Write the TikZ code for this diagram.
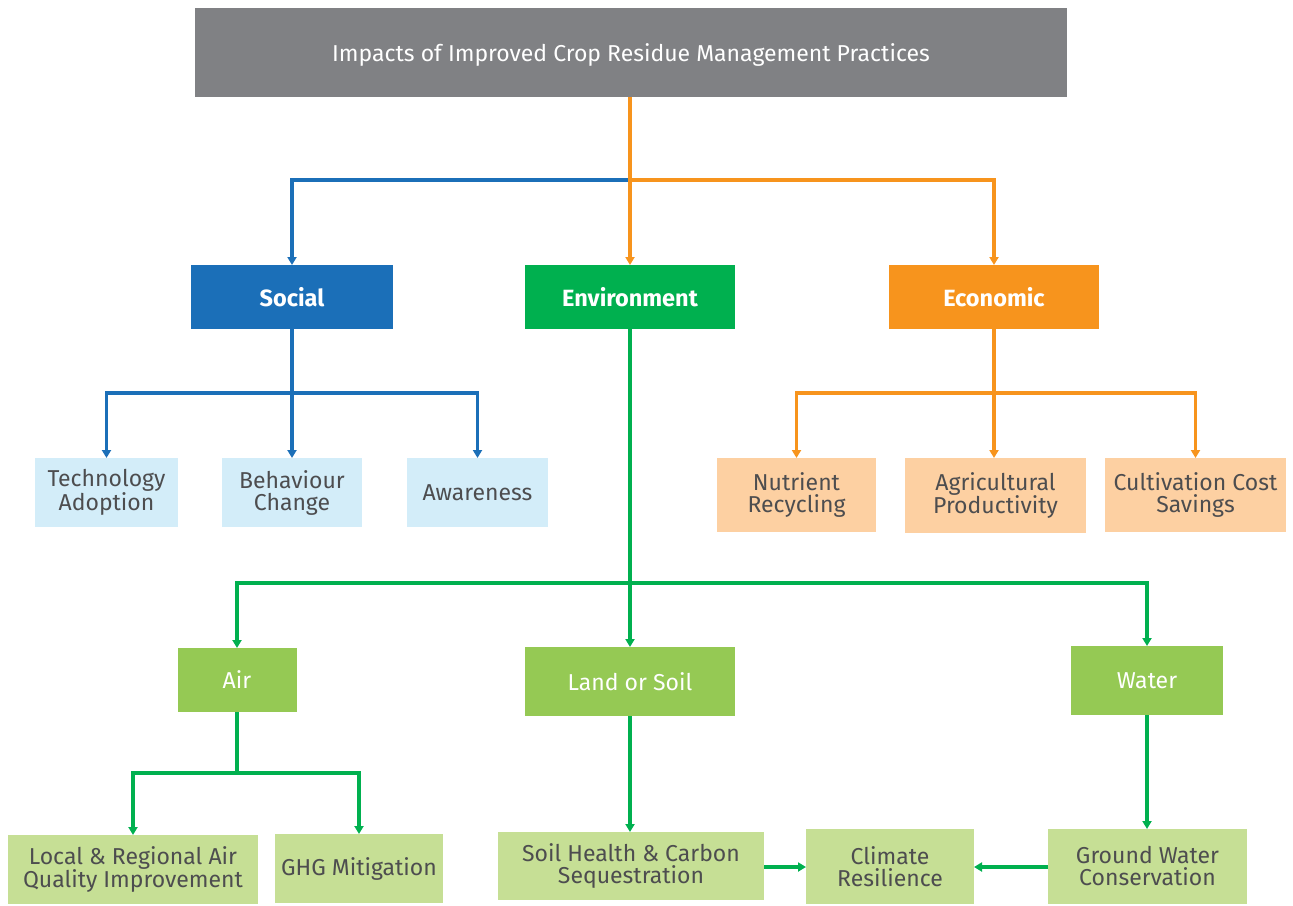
\documentclass[tikz,border=0pt]{standalone}
\usepackage{fontspec}
\setmainfont{Fira Sans}
\usetikzlibrary{arrows.meta,positioning}
\definecolor{cgray}{HTML}{808184}
\definecolor{cblue}{HTML}{1B6FB8}
\definecolor{cgreen}{HTML}{00B04F}
\definecolor{corange}{HTML}{F7941D}
\definecolor{clblue}{HTML}{D3EDF9}
\definecolor{cpeach}{HTML}{FDD0A2}
\definecolor{cmgreen}{HTML}{95C954}
\definecolor{clgreen}{HTML}{C6DF95}
\definecolor{ctext}{HTML}{4D4D4F}
\begin{document}
\begin{tikzpicture}[x=1pt,y=-1pt,
  box/.style={inner sep=0pt,outer sep=0pt,align=center,font=\fontsize{23}{22}\selectfont},
  head/.style={box,text=white,font=\fontsize{23.5}{24}\selectfont\bfseries},
  leaf/.style={box,text=ctext},
  conn/.style={line width=3.2pt},
  arr/.style={conn,-{Triangle[length=8pt,width=9pt]}},
]
\useasboundingbox (0,0) rectangle (1293,905);
% nodes
\node[box,fill=cgray,text=white,minimum width=872pt,minimum height=89pt,text depth=0pt,font=\fontsize{23}{24}\selectfont] (title) at (631,52.5) {Impacts of Improved Crop Residue Management Practices};
\node[head,fill=cblue,minimum width=202pt,minimum height=64pt] (social) at (292,297) {Social};
\node[head,fill=cgreen,minimum width=210pt,minimum height=64pt] (env) at (630,297) {Environment};
\node[head,fill=corange,minimum width=210pt,minimum height=64pt] (econ) at (994,297) {Economic};
\node[leaf,fill=clblue,minimum width=143pt,minimum height=69pt] (tech) at (106.5,492.5) {Technology\\Adoption};
\node[leaf,fill=clblue,minimum width=140pt,minimum height=69pt] (behav) at (292,492.5) {Behaviour\\Change};
\node[leaf,fill=clblue,minimum width=141pt,minimum height=69pt] (aware) at (477.5,492.5) {Awareness};
\node[leaf,fill=cpeach,minimum width=159pt,minimum height=74pt] (nutr) at (796.5,495) {Nutrient\\Recycling};
\node[leaf,fill=cpeach,minimum width=181pt,minimum height=75pt] (agri) at (995.5,495.5) {Agricultural\\Productivity};
\node[leaf,fill=cpeach,minimum width=181pt,minimum height=74pt] (cult) at (1195.5,495) {Cultivation Cost\\Savings};
\node[box,fill=cmgreen,text=white,minimum width=119pt,minimum height=64pt] (air) at (237,680) {Air};
\node[box,fill=cmgreen,text=white,minimum width=210pt,minimum height=69pt] (land) at (630,681.5) {Land or Soil};
\node[box,fill=cmgreen,text=white,minimum width=152pt,minimum height=69pt] (water) at (1147,680.5) {Water};
\node[leaf,fill=clgreen,minimum width=250pt,minimum height=69pt] (local) at (133,869.5) {Local \& Regional Air\\Quality Improvement};
\node[leaf,fill=clgreen,minimum width=168pt,minimum height=69pt] (ghg) at (359,868.5) {GHG Mitigation};
\node[leaf,fill=clgreen,minimum width=266pt,minimum height=68pt] (soil) at (631,866) {Soil Health \& Carbon\\Sequestration};
\node[leaf,fill=clgreen,minimum width=168pt,minimum height=75pt] (clim) at (890,866.5) {Climate\\Resilience};
\node[leaf,fill=clgreen,minimum width=199pt,minimum height=75pt] (ground) at (1147.5,866.5) {Ground Water\\Conservation};
% junctions
\coordinate (j0) at (630,180);
\coordinate (js) at (292,393);
\coordinate (je) at (994,393);
\coordinate (jv) at (630,583);
\coordinate (ja) at (237,773);
% top level
\draw[conn,cblue,-{Triangle[length=8pt,width=9pt]}] (j0) -| (social.north);
\draw[arr,corange] (env.north |- title.south) -- (env.north);
\draw[arr,corange] (j0) -| (econ.north);
% social
\draw[conn,cblue] (social.south) -- (js);
\draw[arr,cblue] (js) -| (tech.north);
\draw[arr,cblue] (js) -- (behav.north);
\draw[arr,cblue] (js) -| (aware.north);
% economic
\draw[conn,corange] (econ.south) -- (je);
\draw[arr,corange] (je) -| (nutr.north);
\draw[arr,corange] (je) -- (je |- agri.north);
\draw[arr,corange] (je) -| (cult.north);
% environment
\draw[conn,cgreen] (env.south) -- (jv);
\draw[arr,cgreen] (jv) -| (air.north);
\draw[arr,cgreen] (jv) -- (land.north);
\draw[arr,cgreen] (jv) -| (water.north);
% air
\draw[conn,cgreen] (air.south) -- (ja);
\draw[arr,cgreen] (ja) -| (local.north);
\draw[arr,cgreen] (ja) -| (ghg.north);
% land, water
\draw[arr,cgreen] (land.south) -- (soil.north -| land.south);
\draw[arr,cgreen] (water.south) -- (ground.north -| water.south);
\draw[arr,cgreen] (soil.east |- 0,867) -- (clim.west |- 0,867);
\draw[arr,cgreen] (ground.west |- 0,867) -- (clim.east |- 0,867);
\end{tikzpicture}
\end{document}
